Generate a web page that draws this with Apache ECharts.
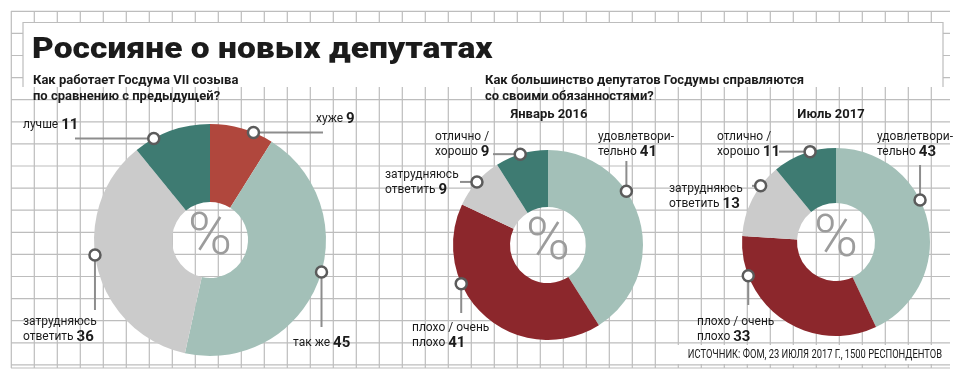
<!DOCTYPE html>
<html><head><meta charset="utf-8">
<script src="https://cdn.jsdelivr.net/npm/echarts@6/dist/echarts.min.js"></script>
<style>html,body{margin:0;padding:0;background:#fff}#c{width:960px;height:378px}</style>
</head><body><div id="c"></div>
<script>
// ---- data ----
const title = 'Россияне о новых депутатах';
const question1 = ['Как работает Госдума VII созыва', 'по сравнению с предыдущей?'];
const question2 = ['Как большинство депутатов Госдумы справляются', 'со своими обязанностями?'];
const period2 = 'Январь 2016';
const period3 = 'Июль 2017';
const source = 'ИСТОЧНИК: ФОМ, 23 ИЮЛЯ 2017 Г., 1500 РЕСПОНДЕНТОВ';

const names1 = [['хуже'], ['так же'], ['затрудняюсь', 'ответить'], ['лучше']];
const values1 = [9, 45, 36, 11];
const names23 = [['удовлетвори-', 'тельно'], ['плохо / очень', 'плохо'], ['затрудняюсь', 'ответить'], ['отлично /', 'хорошо']];
const values2 = [41, 41, 9, 9];
const values3 = [43, 33, 13, 11];

// ---- styles / layout ----
const colors1 = ['#b0473d', '#a3c0b8', '#cbcbcb', '#3e7b72'];
const colors23 = ['#a3c0b8', '#8c272c', '#cbcbcb', '#3e7b72'];
const FONT = 'Roboto, "Liberation Sans", sans-serif';

const pies = [
  { cx: 210, cy: 240, r0: 38, r: 116, names: names1, values: values1, colors: colors1,
    ann: [
      { ang: 22, dir: 'h', end: 323, lx: 316, ly: 119 },
      { ang: 106, dir: 'v', end: 327, lx: 293, ly: 343 },
      { ang: 262.6, dir: 'v', end: 310, lx: 23, ly: 322 },
      { ang: 331, dir: 'h', end: 75, lx: 23, ly: 125 }
    ] },
  { cx: 548, cy: 245, r0: 38, r: 95, names: names23, values: values2, colors: colors23,
    ann: [
      { ang: 55.6, dir: 'v', end: 161, lx: 598, ly: 137 },
      { ang: 246, dir: 'v', end: 313, lx: 412, ly: 328 },
      { ang: 311.6, dir: 'h', end: 460, lx: 385, ly: 175 },
      { ang: 343, dir: 'h', end: 493, lx: 435, ly: 137 }
    ] },
  { cx: 836, cy: 242, r0: 39, r: 94, names: names23, values: values3, colors: colors23,
    ann: [
      { ang: 63.4, dir: 'v', end: 165, lx: 877, ly: 137 },
      { ang: 249, dir: 'v', end: 305, lx: 697, ly: 322 },
      { ang: 306.7, dir: 'h', end: 752, lx: 669, ly: 189 },
      { ang: 344, dir: 'h', end: 779, lx: 717, ly: 137 }
    ] }
];

const graphics = [];
// graph-paper grid
const GRID = '#bdbdbd';
for (let x = 11.3; x < 945; x += 23) {
  graphics.push({ type: 'line', z: -10, silent: true, shape: { x1: x, y1: 11, x2: x, y2: 368 }, style: { stroke: GRID, lineWidth: 1.2 } });
}
for (let k = 0; k <= 16; k++) {
  const y = 11.3 + 22.1 * k;
  graphics.push({ type: 'line', z: -10, silent: true, shape: { x1: 11, y1: y, x2: 950, y2: y }, style: { stroke: GRID, lineWidth: 1.2 } });
}
graphics.push({ type: 'line', z: -10, silent: true, shape: { x1: 11, y1: 368, x2: 950, y2: 368 }, style: { stroke: GRID, lineWidth: 1.2 } });
// title panel
graphics.push({ type: 'rect', z: -5, silent: true, shape: { x: 23, y: 22, width: 920, height: 65 }, style: { fill: '#fff' } });
graphics.push({ type: 'polyline', z: -5, silent: true, shape: { points: [[23, 87], [23, 22.5], [943, 22.5], [943, 87]] }, style: { stroke: GRID, lineWidth: 1.2, fill: null } });
// source background
graphics.push({ type: 'rect', z: -5, silent: true, shape: { x: 672, y: 345, width: 274, height: 19 }, style: { fill: '#fff' } });

function txt(text, x, y, font, fill, align, extra) {
  return Object.assign({ type: 'text', z: 20, silent: true, x: x, y: y,
    style: { text: text, x: 0, y: 0, font: font, fill: fill, align: align || 'left', verticalAlign: 'middle' } }, extra || {});
}
graphics.push(txt(title, 32, 49, '900 30px "Roboto Black", ' + FONT, '#1b1b1b', 'left', { scaleX: 1.12 }));
graphics.push(txt(question1[0], 33, 81, 'bold 13px ' + FONT, '#1b1b1b'));
graphics.push(txt(question1[1], 33, 96.5, 'bold 13px ' + FONT, '#1b1b1b'));
graphics.push(txt(question2[0], 485, 81, 'bold 13px ' + FONT, '#1b1b1b'));
graphics.push(txt(question2[1], 485, 96.5, 'bold 13px ' + FONT, '#1b1b1b'));
graphics.push(txt(period2, 549, 115, 'bold 13px ' + FONT, '#1b1b1b', 'center'));
graphics.push(txt(period3, 831, 115, 'bold 13px ' + FONT, '#1b1b1b', 'center'));
graphics.push(txt(source, 942, 355, '12px ' + FONT, '#1b1b1b', 'right', { scaleX: 0.78 }));

const series = [];
pies.forEach((p, pi) => {
  series.push({
    type: 'pie', center: [p.cx, p.cy], radius: [p.r0, p.r], startAngle: 90, clockwise: true,
    silent: true, animation: false, label: { show: false }, labelLine: { show: false },
    emphasis: { disabled: true }, itemStyle: { borderWidth: 0 },
    data: p.values.map((v, i) => ({ value: v, name: p.names[i].join(' '), itemStyle: { color: p.colors[i] } }))
  });
  // percent sign in the hole
  graphics.push(txt('%', p.cx, p.cy - 1, '300 60px ' + FONT, '#9c9c9c', 'center'));
  p.ann.forEach((a, i) => {
    const rad = a.ang * Math.PI / 180;
    const mx = p.cx + p.r * Math.sin(rad), my = p.cy - p.r * Math.cos(rad);
    const ex = a.dir === 'h' ? a.end : mx, ey = a.dir === 'h' ? my : a.end;
    graphics.push({ type: 'line', z: 15, silent: true, shape: { x1: mx, y1: my, x2: ex, y2: ey }, style: { stroke: '#8d8d8d', lineWidth: 2 } });
    graphics.push({ type: 'circle', z: 16, silent: true, shape: { cx: mx, cy: my, r: 5.5 }, style: { fill: '#fff', stroke: '#5b5b5b', lineWidth: 2.5 } });
    const lines = p.names[i];
    const rich = lines.map((l, j) => j < lines.length - 1 ? '{n|' + l + '}' : '{n|' + l + ' }{v|' + p.values[i] + '}').join('\n');
    graphics.push({ type: 'text', z: 20, silent: true, x: a.lx, y: a.ly - 7.5,
      style: { text: rich, x: 0, y: 0, align: 'left', verticalAlign: 'top',
        rich: { n: { fontSize: 12, fontFamily: FONT, fill: '#1b1b1b', lineHeight: 15 },
                v: { fontSize: 15, fontWeight: 'bold', fontFamily: FONT, fill: '#1b1b1b', lineHeight: 15 } } } });
  });
});

const chart = echarts.init(document.getElementById('c'), null, { renderer: 'canvas' });
chart.setOption({ animation: false, backgroundColor: '#fff', graphic: { elements: graphics }, series: series });
</script></body></html>
